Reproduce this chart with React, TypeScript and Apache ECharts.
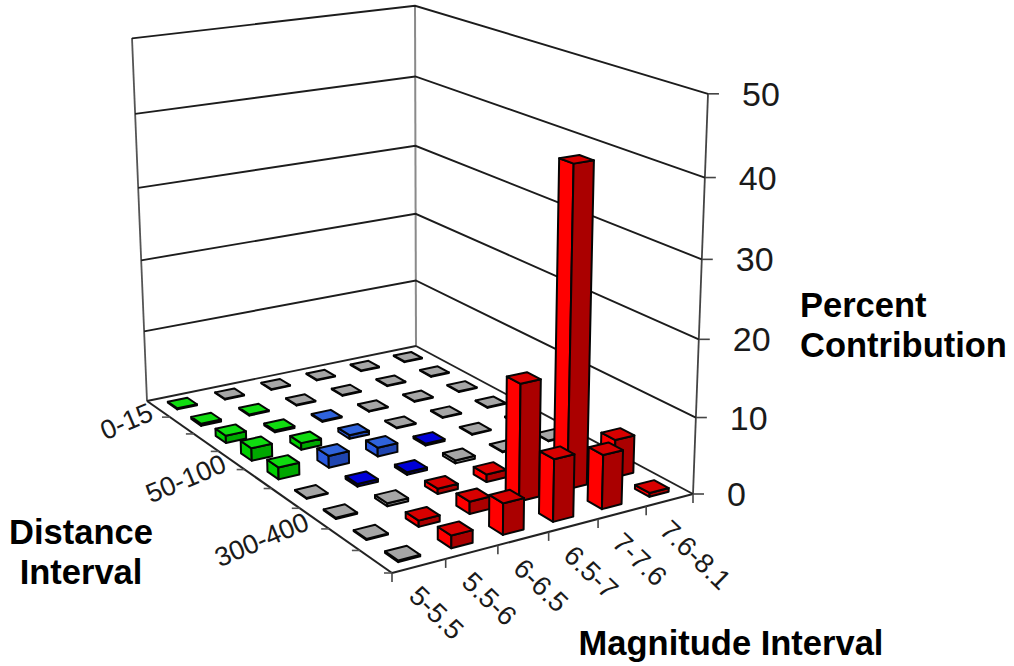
import React, { useEffect, useRef } from "react";
import * as echarts from "echarts";

// ---------- data ----------
const magnitudeLabels = ["5-5.5", "5.5-6", "6-6.5", "6.5-7", "7-7.6", "7.6-8.1"];
const distanceLabels = ["0-15", "50-100", "300-400"];
const distanceLabelRows = [0, 3, 6];
const percentTicks = [0, 10, 20, 30, 40, 50];

// percent contribution: one list per distance row, one value per magnitude column
const row0 = [0.15, 0.1, 0.1, 0.1, 0.1, 0.1];
const row1 = [0.3, 0.15, 0.1, 0.1, 0.1, 0.1];
const row2 = [1.0, 0.25, 0.15, 0.1, 0.1, 0.1];
const row3 = [1.7, 0.9, 0.5, 0.1, 0.1, 0.1];
const row4 = [1.6, 1.6, 1.2, 0.25, 0.1, 0.1];
const row5 = [0.1, 0.35, 0.35, 0.4, 0.1, 0.1];
const row6 = [0.15, 0.4, 0.7, 1.0, 0.1, 0.1];
const row7 = [0.15, 0.8, 1.6, 15.2, 41.3, 5];
const row8 = [0.2, 1.6, 4, 8, 7, 0.5];
const percentRows = [row0, row1, row2, row3, row4, row5, row6, row7, row8];

// colour band of each cell: 0 green, 1 light blue, 2 dark blue, 3 grey, 4 red
const band0 = [0, 3, 3, 3, 3, 3];
const band1 = [0, 0, 3, 3, 3, 3];
const band2 = [0, 0, 1, 3, 3, 3];
const band3 = [0, 0, 1, 3, 3, 3];
const band4 = [0, 1, 1, 2, 3, 3];
const band5 = [3, 2, 2, 3, 3, 3];
const band6 = [3, 3, 4, 4, 3, 3];
const band7 = [3, 4, 4, 4, 4, 4];
const band8 = [3, 4, 4, 4, 4, 4];
const bandRows = [band0, band1, band2, band3, band4, band5, band6, band7, band8];

// ---------- style and projection ----------
const bandColors = [
  { top: "#10dc10", left: "#00d000", right: "#00a800" },
  { top: "#2f63dc", left: "#2a5ae0", right: "#1f45b0" },
  { top: "#0000d8", left: "#0000c0", right: "#00009c" },
  { top: "#a6a6a6", left: "#bcbcbc", right: "#808080" },
  { top: "#d80000", left: "#ff0000", right: "#aa0000" },
];
const ROWS = percentRows.length;
const COLS = magnitudeLabels.length;
const ZMAX = 50;
const HALF = 0.205;
const FONT = "Liberation Sans";

const L = [147, 401], F = [392, 573], R = [693, 494], B = [416, 346];
const LT = [132, 38], BT = [415, 6], RT = [708, 94];

function floorMatrix() {
  const [x0, y0] = L, [x1, y1] = F, [x2, y2] = R, [x3, y3] = B;
  const dx1 = x1 - x2, dx2 = x3 - x2, sx = x0 - x1 + x2 - x3;
  const dy1 = y1 - y2, dy2 = y3 - y2, sy = y0 - y1 + y2 - y3;
  const den = dx1 * dy2 - dx2 * dy1;
  const g = (sx * dy2 - dx2 * sy) / den;
  const h = (dx1 * sy - sx * dy1) / den;
  return {
    a: x1 - x0 + g * x1, b: x3 - x0 + h * x3, c: x0,
    d: y1 - y0 + g * y1, e: y3 - y0 + h * y3, f: y0,
    g, h,
  };
}
const M = floorMatrix();
const floorPoint = (u: number, v: number) => [
  M.a * u + M.b * v + M.c,
  M.d * u + M.e * v + M.f,
  M.g * u + M.h * v + 1,
];

function solve3(A: number[][], y: number[]) {
  const m = A.map((row, i) => [...row, y[i]]);
  for (let i = 0; i < 3; i++) {
    let p = i;
    for (let k = i + 1; k < 3; k++) if (Math.abs(m[k][i]) > Math.abs(m[p][i])) p = k;
    [m[i], m[p]] = [m[p], m[i]];
    for (let k = 0; k < 3; k++) {
      if (k === i) continue;
      const t = m[k][i] / m[i][i];
      for (let j = i; j < 4; j++) m[k][j] -= t * m[i][j];
    }
  }
  return [m[0][3] / m[0][0], m[1][3] / m[1][1], m[2][3] / m[2][2]];
}

function verticalColumn() {
  const tops: [number, number, number[]][] = [[0, 0, LT], [0, 1, BT], [1, 1, RT]];
  const rowsA: number[][] = [];
  const rhs: number[] = [];
  tops.forEach(([u, v, p]) => {
    const [X, Y, W] = floorPoint(u, v);
    rowsA.push([1, 0, -p[0]]); rhs.push(p[0] * W - X);
    rowsA.push([0, 1, -p[1]]); rhs.push(p[1] * W - Y);
  });
  const N = [0, 1, 2].map((i) => [0, 1, 2].map((j) => rowsA.reduce((s, r) => s + r[i] * r[j], 0)));
  const t = [0, 1, 2].map((i) => rowsA.reduce((s, r, k) => s + r[i] * rhs[k], 0));
  return solve3(N, t);
}
const V = verticalColumn();

function project(r: number, c: number, z: number) {
  const [X, Y, W] = floorPoint(r / ROWS, c / COLS);
  const t = z / ZMAX;
  const w = W + V[2] * t;
  return [(X + V[0] * t) / w, (Y + V[1] * t) / w];
}

function line(a: number[], b: number[], stroke: string, lineWidth: number) {
  return {
    type: "line",
    shape: { x1: a[0], y1: a[1], x2: b[0], y2: b[1] },
    style: { stroke, lineWidth },
  };
}

function label(text: string, x: number, y: number, fontSize: number, align: string, rotationDeg: number) {
  return {
    type: "text",
    x,
    y,
    rotation: (rotationDeg * Math.PI) / 180,
    style: { text, fontFamily: FONT, fontSize, fill: "#1a1a1a", align, verticalAlign: "middle" },
  };
}

const renderFloor = () => {
  const children: any[] = [];
  const dark = "#222222";
  children.push(line(L, LT, "#555555", 1.8));
  children.push(line(B, BT, "#8a8a8a", 2));
  children.push(line(R, RT, "#444444", 1.8));
  children.push(line(L, B, dark, 1.9));
  children.push(line(B, R, dark, 1.9));
  children.push(line(L, F, dark, 2.1));
  children.push(line(F, R, dark, 2.1));
  for (let r = 1; r <= ROWS; r++) {
    const p = project(r, 0, 0);
    children.push(line(p, [p[0] - 8, p[1]], "#555555", 1.6));
  }
  for (let c = 0; c <= COLS; c++) {
    const p = project(ROWS, c, 0);
    children.push(line(p, [p[0], p[1] + 9], "#444444", 1.6));
  }
  magnitudeLabels.forEach((t, c) => {
    const p = project(ROWS, c + 0.5, 0);
    children.push(label(t, p[0] - 5, p[1] + 25, 27.5, "left", -44));
  });
  distanceLabels.forEach((t, i) => {
    const p = project(distanceLabelRows[i] + 0.5, 0, 0);
    children.push(label(t, p[0] - 7, p[1] + 2, 27, "right", 23));
  });
  return { type: "group", children };
};

const renderGrid = (_: any, api: any) => {
  const z = api.value(0);
  const a = project(0, 0, z);
  const b = project(0, COLS, z);
  const c = project(ROWS, COLS, z);
  const children: any[] = [];
  if (z > 0) {
    children.push({
      type: "polyline",
      shape: { points: [a, b, c] },
      style: { stroke: "#1c1c1c", lineWidth: 1.9, fill: "none" },
    });
  }
  children.push(line(c, [c[0] + 11, c[1]], "#444444", 1.6));
  children.push(label(String(z), c[0] + 34, c[1] + 0, 34, "left", 0));
  return { type: "group", children };
};

const renderBar = (_: any, api: any) => {
  const r = api.value(0) + 0.5;
  const c = api.value(1) + 0.5;
  const z = api.value(2);
  const col = bandColors[api.value(3)];
  const stroke = { stroke: "#050505", lineWidth: 2, lineJoin: "round" };
  const r0 = r - HALF, r1 = r + HALF, c0 = c - HALF, c1 = c + HALF;
  return {
    type: "group",
    children: [
      {
        type: "polygon",
        shape: { points: [project(r0, c0, 0), project(r1, c0, 0), project(r1, c0, z), project(r0, c0, z)] },
        style: { fill: col.left, ...stroke },
      },
      {
        type: "polygon",
        shape: { points: [project(r1, c0, 0), project(r1, c1, 0), project(r1, c1, z), project(r1, c0, z)] },
        style: { fill: col.right, ...stroke },
      },
      {
        type: "polygon",
        shape: { points: [project(r0, c0, z), project(r1, c0, z), project(r1, c1, z), project(r0, c1, z)] },
        style: { fill: col.top, ...stroke },
      },
    ],
  };
};

function barData() {
  // painter's order: from the back corner towards the front corner
  const out: number[][] = [];
  percentRows.forEach((vals, r) => {
    for (let c = COLS - 1; c >= 0; c--) out.push([r, c, vals[c], bandRows[r][c]]);
  });
  return out;
}

const boldText = (text: string, x: number, y: number, align: string) => ({
  type: "text",
  x,
  y,
  style: { text, fontFamily: FONT, fontSize: 34.5, fontWeight: "bold", fill: "#000", align, verticalAlign: "middle" },
});

export default function App() {
  const ref = useRef<HTMLDivElement>(null);
  useEffect(() => {
    document.body.style.margin = "0";
    const chart = echarts.init(ref.current as HTMLDivElement, undefined, { renderer: "svg" });
    chart.setOption({
      animation: false,
      backgroundColor: "#ffffff",
      series: [
        { type: "custom", name: "Frame", coordinateSystem: "none", silent: true, z: 1, data: [[0]], renderItem: renderFloor },
        { type: "custom", name: "Percent ticks", coordinateSystem: "none", silent: true, z: 2, data: percentTicks.map((t) => [t]), renderItem: renderGrid },
        { type: "custom", name: "Percent Contribution", coordinateSystem: "none", silent: true, z: 3, data: barData(), renderItem: renderBar },
      ],
      graphic: [
        boldText("Percent", 800, 305, "left"),
        boldText("Contribution", 800, 345, "left"),
        boldText("Distance", 81, 532, "center"),
        boldText("Interval", 81, 572, "center"),
        boldText("Magnitude Interval", 731, 643, "center"),
      ],
    });
    return () => chart.dispose();
  }, []);
  return <div ref={ref} style={{ position: "absolute", left: 0, top: 0, width: 1014, height: 666 }} />;
}
